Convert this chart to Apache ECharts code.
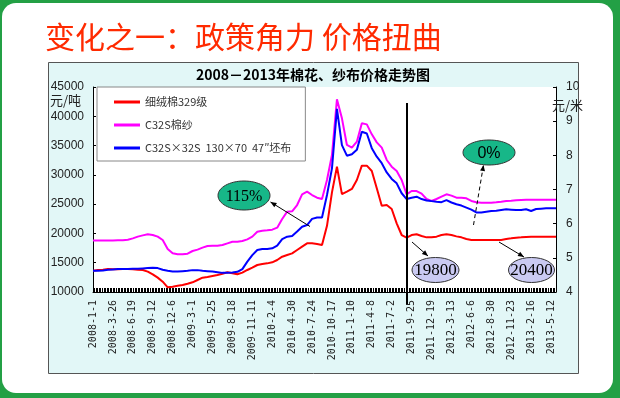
<!DOCTYPE html>
<html><head><meta charset="utf-8">
<script src="https://cdn.jsdelivr.net/npm/echarts@6/dist/echarts.min.js"></script>
<style>
html,body{margin:0;padding:0;}
body{width:620px;height:398px;background:#23a045;position:relative;overflow:hidden;}
#frame{position:absolute;left:2px;top:3px;width:611px;height:390px;background:#fff;border-radius:14px;}
#chart{position:absolute;left:0;top:0;width:620px;height:398px;}
</style></head>
<body><div id="frame"></div><div id="chart"></div>
<script>
// ---- data ----
const tickLabels = ['2008-1-1','2008-3-26','2008-6-19','2008-9-12','2008-12-6','2009-3-1','2009-5-25','2009-8-18','2009-11-11','2010-2-4','2010-4-30','2010-7-24','2010-10-17','2011-1-10','2011-4-8','2011-7-2','2011-9-25','2011-12-19','2012-3-13','2012-6-6','2012-8-30','2012-11-23','2013-2-16','2013-5-12'];
const pointsPerTick = 4;
const seriesNames = ['细绒棉329级','C32S棉纱','C32S×32S  130×70  47″坯布'];
// 细绒棉329级 (元/吨, left axis)
const cotton = [13640,13760,13810,13930,13870,13870,13930,13930,13870,13810,13760,
 13470,13020,12450,11760,10800,10910,11080,11200,11420,11650,
 12050,12450,12560,12730,12900,13130,13360,13190,13020,13300,
 13760,14150,14610,14780,14890,15070,15460,16030,16320,16600,
 17170,17740,18310,18310,18200,18020,21300,
 27000,31400,26700,27130,27590,29120,31570,31570,30660,27700,
 24740,24850,24170,21720,19730,19280,19730,19850,19560,19330,
 19330,19450,19730,19850,19730,19500,19330,19050,18880,18880,
 18880,18880,18880,18880,18880,19050,19160,19280,19330,19390,
 19450,19450,19450,19450,19450,19450];
// C32S棉纱 (元/吨, left axis)
const yarn = [18800,18800,18800,18800,18800,18820,18820,18930,19160,19450,19670,
 19850,19730,19450,18880,17340,16600,16430,16430,16540,17000,
 17230,17570,17850,17910,17910,18020,18310,18590,18590,18710,
 18990,19450,20300,20470,20530,20640,20980,22460,23720,23770,
 24850,26680,27130,26560,26100,25880,29120,
 33390,42900,39650,35100,34640,35660,38800,38620,36920,35550,
 34640,32540,31400,30660,29120,26680,27240,27240,26790,25880,
 25540,25880,26280,26680,26450,26100,26100,25990,25540,25310,
 25250,25250,25250,25310,25420,25540,25590,25650,25710,25760,
 25760,25760,25760,25760,25760,25760];
// 坯布 (元/米, right axis)
const cloth = [4.62,4.62,4.63,4.65,4.66,4.67,4.67,4.67,4.68,4.68,4.69,
 4.70,4.71,4.70,4.65,4.62,4.60,4.60,4.61,4.62,4.64,
 4.64,4.62,4.61,4.60,4.58,4.56,4.56,4.57,4.59,4.67,
 4.89,5.08,5.23,5.26,5.26,5.28,5.36,5.55,5.62,5.64,
 5.77,5.91,5.96,6.14,6.18,6.18,6.84,
 7.62,9.36,8.30,7.99,8.03,8.16,8.69,8.64,8.21,7.96,
 7.77,7.50,7.31,7.18,6.89,6.72,6.76,6.79,6.72,6.68,
 6.66,6.64,6.63,6.69,6.62,6.57,6.53,6.47,6.41,6.33,
 6.33,6.35,6.37,6.38,6.40,6.42,6.41,6.40,6.40,6.42,
 6.37,6.43,6.44,6.45,6.45,6.45];
const leftTicks = {min:10000, max:45000, interval:5000};
const rightTicks = {min:4, max:10, interval:1};
// annotation texts
const noteTexts = ['115%','0%','19800','20400'];

const cats = cotton.map((_, i) => 'p' + i);
const denseTicks = Array.from({length: 300}, (_, i) => 't' + i);

const chart = echarts.init(document.getElementById('chart'), null, {renderer:'canvas'});

function arrowHead(x1,y1,x2,y2,len,w){
  const a = Math.atan2(y2-y1, x2-x1);
  const bx = x2 - len*Math.cos(a), by = y2 - len*Math.sin(a);
  const px = -Math.sin(a)*w, py = Math.cos(a)*w;
  return {type:'polygon', z:100, shape:{points:[[x2,y2],[bx+px,by+py],[bx-px,by-py]]}, style:{fill:'#000'}};
}
function arrow(x1,y1,x2,y2,dash){
  return [
    {type:'line', z:100, shape:{x1,y1,x2,y2}, style:{stroke:'#000', lineWidth:1, lineDash: dash ? [4,3] : null}},
    arrowHead(x1,y1,x2,y2,6,2.5)
  ];
}
function ellipseNote(cx,cy,rx,ry,fill,text,font,size){
  return [
    {type:'ellipse', z:100, shape:{cx,cy,rx,ry}, style:{fill, stroke:'#333', lineWidth:1}},
    {type:'text', z:101, x:cx, y:cy+1, style:{text, fill:'#000', font: size+'px ' + font, textAlign:'center', textVerticalAlign:'middle'}}
  ];
}

const graphics = [
  {type:'rect', z:-1, shape:{x:48.5,y:62.5,width:530,height:311}, style:{fill:'#e2f7f7', stroke:'#555', lineWidth:1}},
  {type:'text', z:100, left:45, top:22, style:{text:'变化之一：政策角力 价格扭曲', fill:'#ff2a00', font:'30px "Noto Sans CJK SC"'}},
  {type:'text', z:100, x:313, y:75, style:{text:'2008－2013年棉花、纱布价格走势图', fill:'#000', font:'bold 14px "Noto Sans CJK SC"', textAlign:'center', textVerticalAlign:'middle'}},
  {type:'text', z:100, x:50, y:100, style:{text:'元/吨', fill:'#222', font:'13px "Noto Sans CJK SC"', textVerticalAlign:'middle'}},
  {type:'text', z:100, x:552, y:105, style:{text:'元/米', fill:'#222', font:'13px "Noto Sans CJK SC"', textVerticalAlign:'middle'}},
  {type:'line', z:90, shape:{x1:407,y1:103,x2:407,y2:304}, style:{stroke:'#000', lineWidth:2}},
  ...ellipseNote(244,195.5,26,14.5,'#17b788',noteTexts[0],'"Liberation Serif"',16),
  ...arrow(310,226.5,270.5,202,false),
  ...ellipseNote(489,152.5,26,12.5,'#17b788',noteTexts[1],'"Liberation Sans"',16),
  ...arrow(473.5,225,483.5,165,true),
  ...ellipseNote(435.5,270,23.5,12.5,'#cacaf2',noteTexts[2],'"Liberation Serif"',17),
  ...arrow(412,242,428,256,false),
  ...ellipseNote(531.5,270,23,12.5,'#cacaf2',noteTexts[3],'"Liberation Serif"',17),
  ...arrow(499,242,524,257,false)
];

chart.setOption({
  animation:false,
  backgroundColor:'transparent',
  grid:{left:93, right:64, top:87, bottom:106, show:true, backgroundColor:'#fff', borderWidth:0},
  legend:{
    orient:'vertical', left:97, top:87, icon:'rect', itemWidth:26, itemHeight:3, itemGap:9,
    backgroundColor:'#fff', borderColor:'#888', borderWidth:1, padding:[8,14,6,17],
    textStyle:{fontSize:11, color:'#333', fontFamily:'"Noto Sans CJK SC"', lineHeight:14},
    data: seriesNames
  },
  xAxis:[
    {type:'category', data:cats, boundaryGap:false, position:'bottom',
     axisLine:{show:true, lineStyle:{color:'#000', width:1}},
     axisTick:{show:false},
     axisLabel:{interval:pointsPerTick-1, rotate:90, margin:8, color:'#222', fontSize:10, fontFamily:'"DejaVu Sans Mono"',
       formatter:(v, idx) => idx % pointsPerTick === 0 ? (tickLabels[idx/pointsPerTick] || '') : ''},
     splitLine:{show:false}},
    {type:'category', data:denseTicks, boundaryGap:false, position:'bottom',
     axisLine:{show:false}, axisLabel:{show:false}, splitLine:{show:false},
     axisTick:{show:true, inside:true, length:4, interval:0, lineStyle:{color:'#000', width:1}}}
  ],
  yAxis:[
    {type:'value', ...leftTicks, position:'left',
     axisLine:{show:true, lineStyle:{color:'#000'}}, axisTick:{show:true, inside:true, length:3, lineStyle:{color:'#000'}},
     axisLabel:{color:'#222', fontSize:12, fontFamily:'"Liberation Sans"', margin:9, formatter:(v) => String(v)}, splitLine:{show:false}},
    {type:'value', ...rightTicks, position:'right',
     axisLine:{show:true, lineStyle:{color:'#000'}}, axisTick:{show:true, inside:true, length:3, lineStyle:{color:'#000'}},
     axisLabel:{color:'#222', fontSize:12, fontFamily:'"Liberation Sans"', margin:10, formatter:(v) => String(v)}, splitLine:{show:false}}
  ],
  series:[
    {name:seriesNames[0], type:'line', data:cotton, yAxisIndex:0, xAxisIndex:0, showSymbol:false, symbol:'none', lineStyle:{color:'#ff0000', width:2}, itemStyle:{color:'#ff0000'}},
    {name:seriesNames[1], type:'line', data:yarn, yAxisIndex:0, xAxisIndex:0, showSymbol:false, symbol:'none', lineStyle:{color:'#ff00ff', width:2}, itemStyle:{color:'#ff00ff'}},
    {name:seriesNames[2], type:'line', data:cloth, yAxisIndex:1, xAxisIndex:0, showSymbol:false, symbol:'none', lineStyle:{color:'#0000ff', width:2}, itemStyle:{color:'#0000ff'}}
  ],
  graphic: graphics
});
</script>
</body></html>
